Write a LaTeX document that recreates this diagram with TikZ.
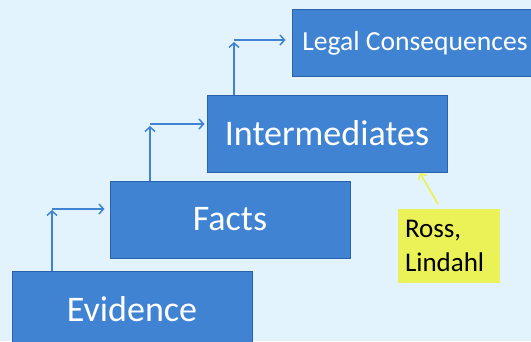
\documentclass[tikz,border=0pt]{standalone}
\usepackage{fontspec}
\setmainfont{Carlito}
\usetikzlibrary{arrows.meta}
\definecolor{bgblue}{HTML}{E2F3FD}
\definecolor{boxblue}{HTML}{3F83D2}
\definecolor{boxedge}{HTML}{2A62AC}
\definecolor{noteyellow}{HTML}{EBF257}

\begin{document}
\begin{tikzpicture}[x=1pt, y=-1pt,
    every node/.style={rectangle, inner sep=0pt},
    stage/.style={draw=boxedge, line width=1pt, fill=boxblue, text=white, minimum width=240pt, minimum height=77pt, font=\fontsize{36}{43}\selectfont},
    flow/.style={draw=boxblue, line width=1.8pt, -{Straight Barb[length=4.5pt, width=10pt, line width=1.5pt]}},
    note/.style={fill=noteyellow, text=black, align=left, minimum width=102pt, minimum height=74pt, text width=88pt, font=\fontsize{27}{34}\selectfont}]
			\fill[bgblue] (0,0) rectangle (531,341);
			\useasboundingbox (0,0) rectangle (531,341);
			
			\node[stage] (ev) at (132,309.5){Evidence};
			\node[stage] (fa) at (230,219.5){Facts};
			\node[stage] (in) at (327,133.5){Intermediates};
			\node[stage, minimum width=246pt, minimum height=67pt, font=\fontsize{27.6}{33}\selectfont] (lc) at (415,43){Legal Consequences};
			\node[note] (rl) at (449,246){Ross,\\Lindahl};
			
			\coordinate (k1) at (52,209);
			\coordinate (k2) at (150,124);
			\coordinate (k3) at (234,40);
			\coordinate (rt) at (438,204);
			\coordinate (rh) at (420,173);
			
			\path[flow] (k1 |- ev.north) -- ([yshift=-1pt]k1);
			\path[flow] (k1) -- ([xshift=-5pt]k1 -| fa.west);
			\path[flow] (k2 |- fa.north) -- ([yshift=-2pt]k2);
			\path[flow] (k2) -- ([xshift=-2pt]k2 -| in.west);
			\path[flow] (k3 |- in.north) -- ([yshift=-2pt]k3);
			\path[flow] (k3) -- ([xshift=-6pt]k3 -| lc.west);
			\path[flow, draw=noteyellow] (rt) -- (rh);
\end{tikzpicture}
\end{document}
